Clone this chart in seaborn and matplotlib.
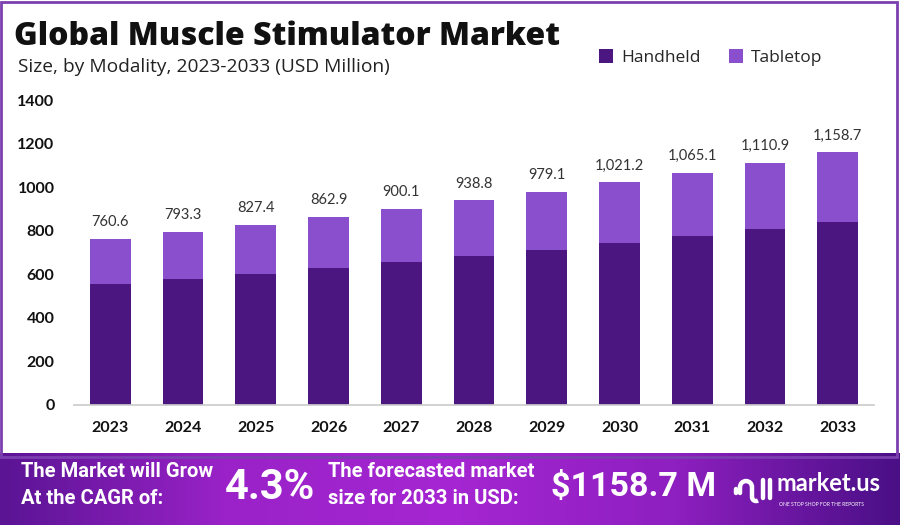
import numpy as np
import pandas as pd
import matplotlib.pyplot as plt
from matplotlib.patches import Rectangle, Arc
from matplotlib.colors import LinearSegmentedColormap
import seaborn as sns

sns.set_theme(style="white")
plt.rcParams['font.family'] = ['Open Sans', 'DejaVu Sans']

years = ["2023", "2024", "2025", "2026", "2027", "2028", "2029", "2030", "2031", "2032", "2033"]
totals = [760.6, 793.3, 827.4, 862.9, 900.1, 938.8, 979.1, 1021.2, 1065.1, 1110.9, 1158.7]
handheld = [552, 576, 601, 626, 653, 681, 711, 741, 773, 806, 841]
total_labels = ["760.6", "793.3", "827.4", "862.9", "900.1", "938.8", "979.1",
                "1,021.2", "1,065.1", "1,110.9", "1,158.7"]

dark = "#4c1680"
light = "#8a4fcc"

df = pd.DataFrame({"year": years, "total": totals, "handheld": handheld})

fig = plt.figure(figsize=(9, 5.25), dpi=100)
ax = fig.add_axes([0.0822, 0.2295, 0.889, 0.58])

sns.barplot(data=df, x="year", y="total", color=light, width=0.56, ax=ax,
            saturation=1, label="Tabletop", linewidth=0)
sns.barplot(data=df, x="year", y="handheld", color=dark, width=0.56, ax=ax,
            saturation=1, label="Handheld", linewidth=0)

for i, (t, lab) in enumerate(zip(totals, total_labels)):
    ax.text(i, t + 45, lab, ha="center", va="bottom", fontsize=10.5, color="#333333",
            family=["Lato"])

ax.set_xlim(-0.5, 10.5)
ax.set_ylim(0, 1400)
ax.set_yticks(range(0, 1401, 200))
ax.set_xlabel("")
ax.set_ylabel("")
for s in ["top", "right", "left"]:
    ax.spines[s].set_visible(False)
ax.spines["bottom"].set_color("#cccccc")
ax.tick_params(axis="y", length=0, pad=14, labelsize=11.5)
ax.tick_params(axis="x", length=0, pad=12, labelsize=11.5)
for lab in ax.get_xticklabels() + ax.get_yticklabels():
    lab.set_fontweight("bold")
    lab.set_color("#111111")
    lab.set_family(["Lato"])

if ax.legend_:
    ax.legend_.remove()
h, l = ax.get_legend_handles_labels()
order = [l.index("Handheld"), l.index("Tabletop")]
fig.legend([h[i] for i in order], [l[i] for i in order], loc="center left",
           bbox_to_anchor=(0.648, 0.89), ncol=2, frameon=False, fontsize=12.5,
           handlelength=0.8, handleheight=0.8, columnspacing=1.6, handletextpad=0.5)

fig.text(0.015, 0.93, "Global Muscle Stimulator Market", fontsize=23, fontweight="heavy",
         color="#111111", va="center")
fig.text(0.02, 0.872, "Size, by Modality, 2023-2033 (USD Million)", fontsize=13.8,
         color="#222222", va="center")

# border
fig.patches.append(Rectangle((0.001, 0.13), 0.996, 0.867, transform=fig.transFigure,
                             fill=False, edgecolor="#7b3fb0", linewidth=2))

# bottom banner, drawn in pixel units (900 x 72)
bax = fig.add_axes([0, 0, 1, 0.137])
cmap = LinearSegmentedColormap.from_list("ban", ["#5b1494", "#9a22c8", "#a526d2", "#8e1fc0", "#4a0f86"])
grad = np.linspace(0, 1, 256).reshape(1, -1)
bax.imshow(grad, aspect="auto", cmap=cmap, extent=[0, 900, 0, 72])
bax.set_xlim(0, 900)
bax.set_ylim(0, 72)
bax.axis("off")
cond = ["Roboto", "DejaVu Sans"]
bax.text(21, 54, "The Market will Grow", color="white", fontsize=14.5, fontweight="bold", va="center", family=cond)
bax.text(21, 27, "At the CAGR of:", color="white", fontsize=14.5, fontweight="bold", va="center", family=cond)
bax.text(225, 38, "4.3%", color="white", fontsize=30, fontweight="bold", va="center", family=cond)
bax.text(328, 54, "The forecasted market", color="white", fontsize=14.5, fontweight="bold", va="center", family=cond)
bax.text(328, 27, "size for 2033 in USD:", color="white", fontsize=14.5, fontweight="bold", va="center", family=cond)
bax.text(551, 38, "$1158.7 M", color="white", fontsize=24.5, fontweight="bold", va="center", family=cond)
bax.text(777, 42, "market.us", color="white", fontsize=17, fontweight="bold", va="center", family=["Lato"])
bax.text(779, 21, "ONE STOP SHOP FOR THE REPORTS", color="white", fontsize=3.6, va="center", family=["Lato"])

# logo mark
lw = 3.2
bax.plot([736, 736], [32, 36], color="white", lw=lw, solid_capstyle="round")
bax.add_patch(Arc((746, 38), 12, 12, theta1=0, theta2=180, color="white", lw=lw))
bax.plot([740, 740], [38, 32], color="white", lw=lw, solid_capstyle="round")
bax.plot([752, 752], [38, 28], color="white", lw=lw, solid_capstyle="round")
bax.add_patch(Arc((756, 28), 8, 8, theta1=180, theta2=300, color="white", lw=lw))
bax.plot([763, 763], [27, 45], color="white", lw=lw, solid_capstyle="round")
bax.plot([770, 770], [27, 45], color="white", lw=lw, solid_capstyle="round")

fig.savefig("out.png", dpi=100)
